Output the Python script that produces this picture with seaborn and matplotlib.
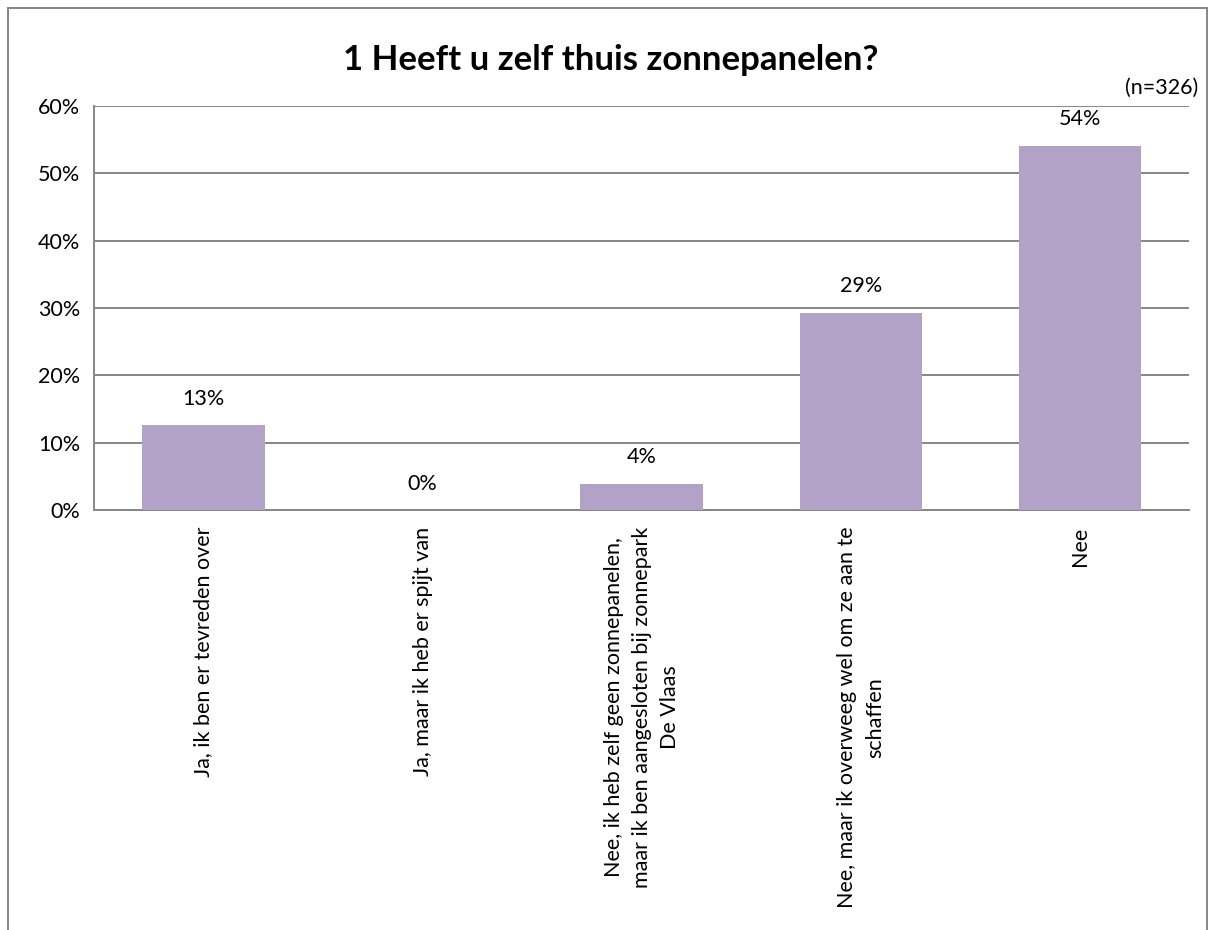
import matplotlib
matplotlib.use("Agg")
import matplotlib.pyplot as plt
import matplotlib.patches as patches
from matplotlib.ticker import FuncFormatter, MultipleLocator, FixedLocator
import numpy as np
import pandas as pd
import seaborn as sns

# data
categories = [
    "Ja, ik ben er tevreden over",
    "Ja, maar ik heb er spijt van",
    "Nee, ik heb zelf geen zonnepanelen,\nmaar ik ben aangesloten bij zonnepark\nDe Vlaas",
    "Nee, maar ik overweeg wel om ze aan te\nschaffen",
    "Nee",
]
percentages = [12.6, 0.0, 3.9, 29.3, 54.1]
title = "1 Heeft u zelf thuis zonnepanelen?"
sample_note = "(n=326)"

sns.set_style("white")
plt.rcParams['font.family'] = ['Lato', 'DejaVu Sans']
plt.rcParams['text.color'] = 'black'
plt.rcParams['xtick.color'] = 'black'
plt.rcParams['ytick.color'] = 'black'

bar_color = "#b3a2c7"
grid_color = "#868686"

df = pd.DataFrame({"categorie": categories, "pct": percentages})

fig = plt.figure(figsize=(12.15, 9.3), dpi=100)
ax = fig.add_axes([0.0774, 0.4516, 0.9016, 0.4344])

sns.barplot(data=df, x="categorie", y="pct", color=bar_color,
            width=0.56, saturation=1, linewidth=0, ax=ax, zorder=3)

ax.set_ylim(0, 60)
ax.set_xlim(-0.5, len(categories) - 0.5)
ax.yaxis.set_major_locator(MultipleLocator(10))
ax.yaxis.set_major_formatter(FuncFormatter(lambda v, p: f"{v:.0f}%"))
ax.grid(axis="y", color=grid_color, lw=1.4, zorder=0)
ax.set_axisbelow(True)

for s in ["top", "right"]:
    ax.spines[s].set_visible(False)
for s in ["left", "bottom"]:
    ax.spines[s].set_color(grid_color)
    ax.spines[s].set_linewidth(1.4)

ax.set_xlabel("")
ax.set_ylabel("")

# category labels at centres, tick marks at boundaries
ax.set_xticks(range(len(categories)))
ax.set_xticklabels(categories, rotation=90, ha="center", va="top",
                   multialignment="center", fontsize=15.5)
for lbl in ax.get_xticklabels():
    lbl.set_linespacing(1.5)
ax.xaxis.set_minor_locator(FixedLocator(np.arange(-0.5, len(categories), 1)))
ax.tick_params(axis="x", which="major", length=0, pad=12)
ax.tick_params(axis="x", which="minor", length=6, width=1.2, color=grid_color)
ax.tick_params(axis="y", length=6, width=1.2, color=grid_color,
               labelcolor="black", labelsize=15.5, pad=4)

for i, v in enumerate(percentages):
    ax.annotate(f"{v:.0f}%", (i, v), xytext=(0, 19), textcoords="offset points",
                ha="center", va="center", fontsize=15.5)

fig.text(0.503, 0.935, title, ha="center", va="center",
         fontsize=25, fontweight="bold")
fig.text(0.986, 0.906, sample_note, ha="right", va="center", fontsize=15.5)

# outer chart border
fig.patches.append(patches.Rectangle((8 / 1215, -0.01), 1 - 16 / 1215, 1 - 8 / 930 + 0.01,
                                     transform=fig.transFigure, fill=False,
                                     edgecolor=grid_color, lw=1.4))

fig.savefig("out.png", dpi=100)
